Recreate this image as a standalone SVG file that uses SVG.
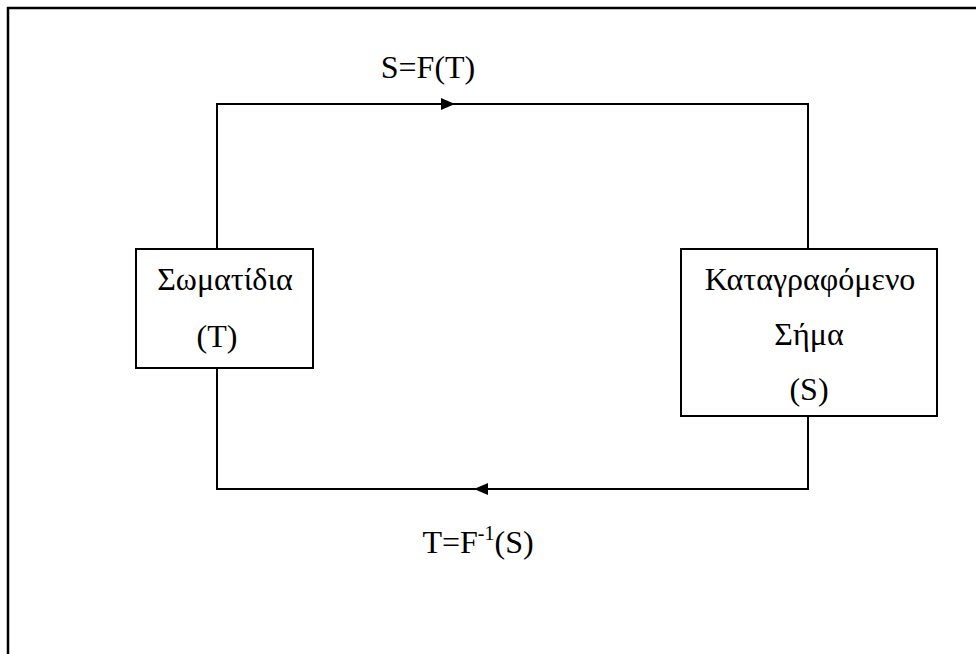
<svg xmlns="http://www.w3.org/2000/svg" width="976" height="654" viewBox="0 0 976 654">
  <style>
    .frame { fill: none; stroke: #000; stroke-width: 2.5; }
    .box { fill: #fff; stroke: #000; stroke-width: 2; }
    .wire { fill: none; stroke: #000; stroke-width: 2; }
    .txt { font-family: "Liberation Serif", "Times New Roman", serif; font-size: 32px; fill: #000; text-anchor: middle; }
    .sup { font-size: 20px; }
  </style>
  <defs>
    <marker id="arrow" viewBox="0 0 14 12" refX="14" refY="6" markerWidth="14" markerHeight="12" markerUnits="userSpaceOnUse" orient="auto">
      <path d="M0,0 L14,6 L0,12 Z" fill="#000"/>
    </marker>
  </defs>

  <rect width="976" height="654" fill="#fff"/>
  <!-- page frame -->
  <path class="frame" d="M8,654 V8 H976"/>

  <!-- connectors -->
  <g id="connectors">
    <path class="wire" d="M217,249 V104 H808 V249"/>
    <path class="wire" d="M217,104 H455" marker-end="url(#arrow)"/>
    <path class="wire" d="M808,416 V489 H217 V368"/>
    <path class="wire" d="M808,489 H474" marker-end="url(#arrow)"/>
    <text class="txt" x="428" y="78">S=F(T)</text>
    <text class="txt" x="478" y="553">T=F<tspan class="sup" dy="-13">-1</tspan><tspan dy="13">(S)</tspan></text>
  </g>

  <g id="particles">
    <rect class="box" x="136" y="249" width="177" height="119"/>
    <text class="txt" x="225" y="290">Σωματίδια</text>
    <text class="txt" x="217" y="347">(T)</text>
  </g>

  <g id="signal">
    <rect class="box" x="681" y="249" width="256" height="167"/>
    <text class="txt" x="810" y="290">Καταγραφόμενο</text>
    <text class="txt" x="809" y="345">Σήμα</text>
    <text class="txt" x="809" y="400">(S)</text>
  </g>
</svg>
